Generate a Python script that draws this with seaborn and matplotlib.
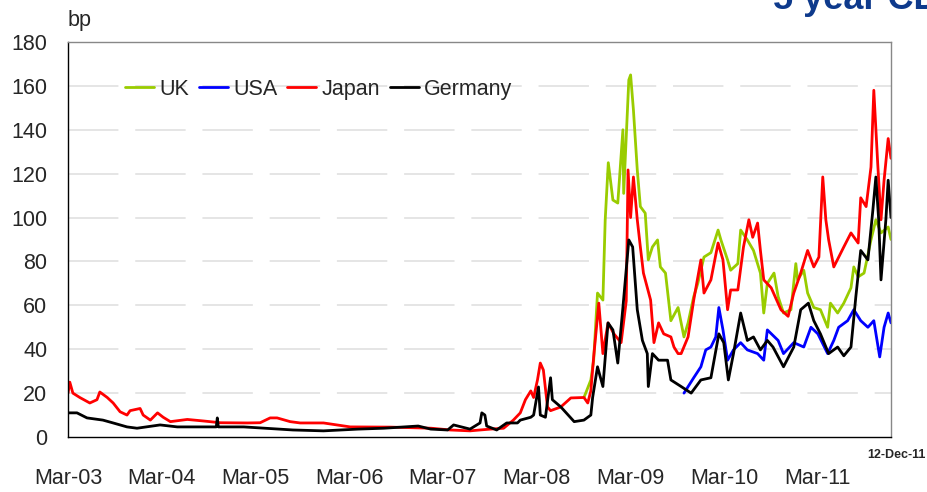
import pandas as pd
import matplotlib
matplotlib.use('Agg')
import matplotlib.pyplot as plt
import matplotlib.dates as mdates
import seaborn as sns

# Series (bp)
uk_dates = ['2008-09-01', '2008-09-08', '2008-09-28', '2008-10-09', '2008-10-24', '2008-11-14', '2008-11-23',
            '2008-12-05', '2008-12-23', '2009-01-11', '2009-01-31', '2009-02-03', '2009-02-23', '2009-03-02',
            '2009-03-13', '2009-03-28', '2009-04-09', '2009-04-28', '2009-05-10', '2009-05-26', '2009-06-15',
            '2009-06-26', '2009-07-16', '2009-08-06', '2009-09-03', '2009-09-26', '2009-10-12', '2009-11-03',
            '2009-11-19', '2009-12-13', '2010-01-09', '2010-02-06', '2010-02-17', '2010-03-15', '2010-03-27',
            '2010-04-24', '2010-05-05', '2010-05-31', '2010-06-24', '2010-07-21', '2010-08-03', '2010-08-17',
            '2010-09-12', '2010-09-28', '2010-10-19', '2010-11-17', '2010-12-06', '2010-12-13', '2011-01-06',
            '2011-01-21', '2011-02-14', '2011-03-12', '2011-04-09', '2011-04-20', '2011-05-18', '2011-06-11',
            '2011-07-09', '2011-07-20', '2011-08-06', '2011-08-29', '2011-09-25', '2011-10-14', '2011-11-03',
            '2011-12-01', '2011-12-12']
uk_values = [18, 20, 26, 35, 65.6, 62.4, 99,
             125, 108, 106.6, 140, 111, 162.7, 165,
             149, 121.7, 105, 102, 80.7, 86.6, 89.8,
             77.5, 74.7, 53, 59, 45.6, 52, 64,
             70, 82, 84, 94.3, 89.8, 80.7, 76,
             79, 94.3, 89.8, 85, 74.7, 56.5, 70,
             74.7, 64, 56.5, 58, 79, 71.6, 76,
             65.6, 59, 58, 50, 61, 56.5, 61,
             68, 77.5, 73, 74.7, 89.8, 99, 93,
             95.7, 90]

usa_dates = ['2009-09-26', '2009-11-03', '2009-12-01', '2009-12-20', '2010-01-09', '2010-01-28', '2010-02-09',
             '2010-02-25', '2010-03-15', '2010-04-07', '2010-05-05', '2010-05-31', '2010-07-10', '2010-08-03',
             '2010-08-17', '2010-09-28', '2010-10-19', '2010-11-28', '2011-01-06', '2011-02-03', '2011-03-02',
             '2011-04-09', '2011-05-03', '2011-05-22', '2011-06-26', '2011-07-20', '2011-08-16', '2011-09-13',
             '2011-10-06', '2011-10-29', '2011-11-15', '2011-12-01', '2011-12-12']
usa_values = [20, 27, 32, 39.7, 41, 45.6, 59,
              48.8, 35, 39.7, 43, 39.7, 38, 35,
              48.8, 44, 38, 43, 41, 50, 47,
              38, 44, 50, 53, 58, 53, 50,
              53, 36.5, 50, 56.5, 52]

japan_dates = ['2003-03-01', '2003-03-08', '2003-03-20', '2003-04-16', '2003-05-25', '2003-06-22', '2003-07-03',
               '2003-08-01', '2003-08-24', '2003-09-20', '2003-10-17', '2003-10-29', '2003-12-07', '2003-12-19',
               '2004-01-16', '2004-02-13', '2004-03-06', '2004-04-03', '2004-06-08', '2004-08-10', '2004-10-15',
               '2005-01-29', '2005-03-19', '2005-04-27', '2005-05-24', '2005-07-14', '2005-08-22', '2005-11-21',
               '2006-03-05', '2006-08-09', '2007-01-15', '2007-03-30', '2007-06-15', '2007-07-24', '2007-09-03',
               '2007-10-24', '2007-12-01', '2007-12-28', '2008-01-17', '2008-02-07', '2008-02-18', '2008-03-04',
               '2008-03-15', '2008-03-27', '2008-04-12', '2008-04-24', '2008-06-03', '2008-07-12', '2008-09-01',
               '2008-09-16', '2008-09-28', '2008-10-09', '2008-10-29', '2008-11-14', '2008-12-04', '2008-12-27',
               '2009-01-24', '2009-02-13', '2009-02-20', '2009-03-02', '2009-03-13', '2009-03-28', '2009-04-09',
               '2009-04-21', '2009-05-19', '2009-06-01', '2009-06-19', '2009-07-09', '2009-08-06', '2009-08-18',
               '2009-09-03', '2009-09-15', '2009-10-12', '2009-11-03', '2009-12-01', '2009-12-13', '2010-01-09',
               '2010-02-06', '2010-02-25', '2010-03-15', '2010-03-27', '2010-04-24', '2010-05-16', '2010-06-06',
               '2010-06-21', '2010-07-10', '2010-07-21', '2010-08-03', '2010-09-01', '2010-10-09', '2010-11-06',
               '2010-11-28', '2010-12-25', '2011-01-21', '2011-02-14', '2011-03-06', '2011-03-21', '2011-04-02',
               '2011-04-13', '2011-05-03', '2011-06-11', '2011-07-09', '2011-08-06', '2011-08-16', '2011-09-06',
               '2011-09-25', '2011-10-06', '2011-10-21', '2011-11-03', '2011-11-15', '2011-12-01', '2011-12-12']
japan_values = [20, 25, 20, 18, 15.5, 17, 20.5,
                18, 15.5, 11.5, 10, 12, 13, 10,
                7.7, 11, 9, 7, 8, 7.3, 6.5,
                6.4, 6.5, 8.7, 8.7, 7, 6.4, 6.4,
                4.6, 4.5, 4, 3.2, 2.8, 3.2, 3.6,
                4, 7.7, 11, 17, 21, 18, 26,
                33.7, 30.5, 13.7, 12, 13.7, 17.8, 18,
                15.5, 21, 36.5, 61, 38, 52, 47,
                43, 62, 121.7, 100, 118.5, 99, 86.6,
                74.7, 62.4, 43, 52, 47, 45.6, 41,
                38, 38, 45.6, 62.4, 80.7, 65.6, 71.6,
                88.4, 80.7, 58, 67, 67, 86.6, 99,
                91, 97.5, 85, 71.6, 68, 58, 55,
                65.6, 74.7, 85, 77.5, 82, 118.5, 99,
                89.8, 77.5, 86.6, 93, 88.4, 109, 105,
                123, 158, 125, 99, 117, 136, 127]

germany_dates = ['2003-03-01', '2003-04-05', '2003-05-14', '2003-07-15', '2003-08-24', '2003-10-17', '2003-11-25',
                 '2004-02-23', '2004-04-30', '2004-09-29', '2004-10-03', '2004-10-07', '2005-01-14', '2005-07-25',
                 '2005-11-21', '2006-04-05', '2006-07-14', '2006-11-25', '2007-01-13', '2007-03-20', '2007-04-12',
                 '2007-06-15', '2007-07-24', '2007-07-31', '2007-08-12', '2007-08-19', '2007-09-27', '2007-11-05',
                 '2007-12-17', '2007-12-28', '2008-02-07', '2008-02-18', '2008-03-08', '2008-03-15', '2008-04-04',
                 '2008-04-24', '2008-05-01', '2008-06-03', '2008-07-25', '2008-09-01', '2008-09-28', '2008-10-05',
                 '2008-10-24', '2008-11-14', '2008-12-04', '2008-12-23', '2009-01-11', '2009-01-31', '2009-02-23',
                 '2009-03-10', '2009-03-28', '2009-04-17', '2009-05-06', '2009-05-10', '2009-05-26', '2009-06-19',
                 '2009-07-24', '2009-08-06', '2009-09-15', '2009-10-24', '2009-12-01', '2010-01-09', '2010-02-09',
                 '2010-02-28', '2010-03-18', '2010-04-07', '2010-05-05', '2010-05-31', '2010-06-24', '2010-07-21',
                 '2010-08-17', '2010-09-08', '2010-10-19', '2010-11-28', '2010-12-25', '2011-01-24', '2011-02-14',
                 '2011-03-12', '2011-04-13', '2011-05-18', '2011-06-11', '2011-07-09', '2011-07-28', '2011-08-16',
                 '2011-09-13', '2011-10-02', '2011-10-14', '2011-10-25', '2011-11-03', '2011-11-22', '2011-12-01',
                 '2011-12-12']
germany_values = [11, 11, 8.7, 7.7, 6.4, 4.6, 4,
                  5.5, 4.6, 4.6, 8.7, 4.6, 4.6, 3.2,
                  2.8, 3.6, 4, 5, 3.6, 3.2, 5.5,
                  3.6, 6.4, 11, 10, 5, 3.2, 6.4,
                  6.4, 7.7, 9, 10, 22.8, 10, 9,
                  27, 17, 13.7, 7, 7.7, 10, 18,
                  32, 23, 52, 48.8, 33.7, 59, 89.8,
                  86.6, 58, 44, 38, 23, 38, 35,
                  35, 26, 23, 20, 26, 27, 47,
                  43, 26, 38, 56.5, 44, 45.6, 39.7,
                  44, 41, 32, 41, 58, 61, 53,
                  47, 38, 41, 37, 41, 64, 85,
                  80.7, 103, 118.5, 99, 71.6, 99, 117,
                  100]

countries = ['UK', 'USA', 'Japan', 'Germany']
colors = ['#99cc00', '#0000ff', '#ff0000', '#000000']
y_ticks = [0, 20, 40, 60, 80, 100, 120, 140, 160, 180]
x_tick_dates = ['2003-03-01', '2004-03-01', '2005-03-01', '2006-03-01', '2007-03-01',
                '2008-03-01', '2009-03-01', '2010-03-01', '2011-03-01']

frames = []
for name, d, v in [('UK', uk_dates, uk_values), ('USA', usa_dates, usa_values),
                   ('Japan', japan_dates, japan_values), ('Germany', germany_dates, germany_values)]:
    frames.append(pd.DataFrame({'date': pd.to_datetime(d), 'bp': v, 'country': name}))
df = pd.concat(frames, ignore_index=True)

sns.set_style('white')
plt.rcParams['font.family'] = ['Liberation Sans Narrow', 'Liberation Sans', 'DejaVu Sans']

fig = plt.figure(figsize=(9.28, 4.92), dpi=100)
ax = fig.add_axes([68 / 928, 1 - 437 / 492, 823 / 928, 395 / 492])

sns.lineplot(data=df, x='date', y='bp', hue='country', hue_order=countries,
             palette=dict(zip(countries, colors)), linewidth=2.0, estimator=None, sort=False, ax=ax)

ax.set_ylim(0, 180)
ax.set_yticks(y_ticks)
ax.set_xlim(pd.Timestamp('2003-03-01'), pd.Timestamp('2011-12-12'))
ax.set_xticks(pd.to_datetime(x_tick_dates))
ax.xaxis.set_major_formatter(mdates.DateFormatter('%b-%y'))
ax.set_xlabel('')
ax.set_ylabel('')

# dashed light grid
for y in y_ticks[1:-1]:
    ax.axhline(y, color='#dedede', linewidth=1.1, linestyle=(0, (33, 11)), zorder=0)

ax.spines['left'].set_color('black')
ax.spines['bottom'].set_color('black')
ax.spines['top'].set_color('#888888')
ax.spines['right'].set_color('#888888')
for s in ax.spines.values():
    s.set_linewidth(1.0)

ax.tick_params(axis='y', direction='in', length=6, color='#777777', pad=15, labelsize=15.5)
ax.tick_params(axis='x', direction='in', length=6, color='black', pad=22, labelsize=15.5)

h, l = ax.get_legend_handles_labels()
ax.legend(h, l, loc='center left', bbox_to_anchor=(0.069, 0.881), ncol=4, frameon=False,
          fontsize=15.5, handlelength=1.35, handletextpad=0.25, columnspacing=0.45,
          borderpad=0, borderaxespad=0)

fig.text(68 / 928, 1 - 26 / 492, 'bp', fontsize=15.5, ha='left', va='baseline')
fig.text(926 / 928, 1 - 458 / 492, '12-Dec-11', fontsize=9, fontweight='bold', ha='right',
         va='baseline', family=['Liberation Sans', 'DejaVu Sans'])
fig.text(773 / 928, 1 - 9 / 492, '5 year CDS', fontsize=26, fontweight='bold', color='#0e3a8c',
         ha='left', va='baseline', family=['Liberation Sans', 'DejaVu Sans'])

fig.savefig('out.png', dpi=100)
